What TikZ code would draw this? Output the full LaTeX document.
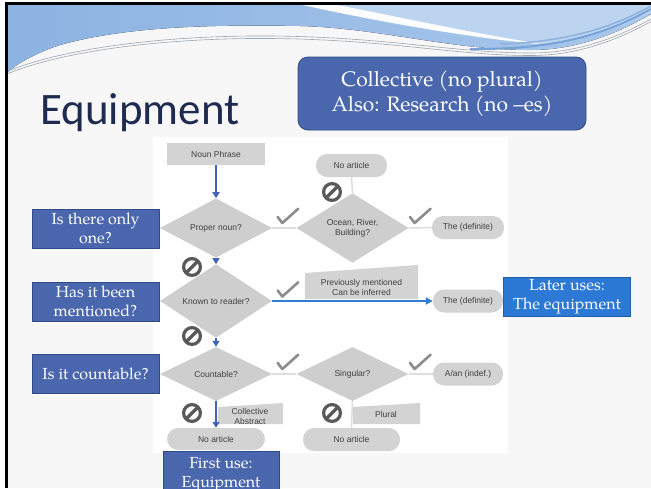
\documentclass[tikz,border=0pt]{standalone}
\usepackage{fontspec}
\usetikzlibrary{shapes.geometric,arrows.meta}
\newfontfamily\carl{Carlito}
\newfontfamily\ars{Liberation Sans}
\newfontfamily\palfont{TeX Gyre Pagella}
\definecolor{slidebg}{HTML}{F7F7F7}
\definecolor{boxblue}{HTML}{4A67AD}
\definecolor{boxedge}{HTML}{2F4B88}
\definecolor{laterblue}{HTML}{2B79D4}
\definecolor{lateredge}{HTML}{1F5FAF}
\definecolor{arrblue}{HTML}{3F64B9}
\definecolor{harrblue}{HTML}{2E7DD6}
\definecolor{gfill}{HTML}{CECECE}
\definecolor{pfill}{HTML}{D3D3D3}
\definecolor{gtext}{HTML}{404040}
\definecolor{iconcol}{HTML}{595959}
\definecolor{chkcol}{HTML}{8C8C8C}
\definecolor{glinecol}{HTML}{DDDDDD}
\definecolor{titlecol}{HTML}{1F2A50}
\definecolor{wA}{HTML}{8CB3E2}
\definecolor{wB}{HTML}{A9C7EB}
\definecolor{wlight}{HTML}{BCD4EF}
\definecolor{wdark}{HTML}{78A3DA}
\definecolor{wgray}{HTML}{9EA6B0}
\tikzset{
  qbox/.style={draw=boxedge, fill=boxblue, text=white, line width=0.8pt,
    font=\palfont\fontsize{16}{19}\selectfont, align=center,
    minimum width=127pt, minimum height=39pt, inner sep=0pt},
  gdia/.style={diamond, fill=gfill, minimum width=112pt, minimum height=54pt,
    inner sep=0pt, font=\ars\fontsize{8.5}{10}\selectfont, text=gtext, align=center},
  gpill/.style={rectangle, rounded corners=11pt, fill=pfill, minimum width=72pt,
    minimum height=23pt, inner sep=0pt, font=\ars\fontsize{8.5}{10}\selectfont, text=gtext},
  grect/.style={rectangle, fill=pfill, minimum width=98pt, minimum height=22pt,
    inner sep=0pt, font=\ars\fontsize{8.5}{10}\selectfont, text=gtext},
  gtxt/.style={inner sep=0pt, font=\ars\fontsize{8.5}{10}\selectfont, text=gtext, align=center},
  gline/.style={draw=glinecol, line width=1.5pt},
  barrow/.style={draw=arrblue, line width=2pt, -{Triangle[length=6pt,width=7pt]}},
  harrow/.style={draw=harrblue, line width=2pt, -{Triangle[length=7pt,width=7pt]}},
  chkstyle/.style={draw=chkcol, line width=2.6pt, line join=round, line cap=round},
  noent/.style={circle, draw=iconcol, line width=3.2pt, minimum size=16.8pt, inner sep=0pt,
    path picture={\draw[iconcol, line width=3.2pt] (path picture bounding box.south west) -- (path picture bounding box.north east);}}
}
\newcommand\mychk[2]{\draw[chkstyle] (#1,#2) -- ++(4.6,6) -- ++(16,-14.3);}
\begin{document}
\begin{tikzpicture}[x=1pt,y=-1pt]
\useasboundingbox (0,0) rectangle (651,488);
\fill[white] (0,0) rectangle (651,488);
\fill[slidebg] (6.5,3.3) rectangle (651,488);
% top wave
\fill[left color=wA, right color=wB] (8,4.5) -- (651,4.5) -- (651,14)
  .. controls (610,38) and (570,50) .. (531,50)
  .. controls (450,50) and (380,28) .. (300,26)
  .. controls (200,24) and (120,28) .. (60,45)
  .. controls (35,53) and (15,65) .. (8,72) -- cycle;
\fill[wlight] (305,4.5) .. controls (380,20) and (470,36) .. (545,44)
  .. controls (590,40) and (625,25) .. (651,12) -- (651,4.5) -- cycle;
\fill[white!96!wlight] (300,4.5) .. controls (380,22) and (470,38) .. (548,45)
  .. controls (470,33) and (390,15) .. (335,4.5) -- cycle;
\draw[wdark, line width=2pt] (470,49) .. controls (560,50) and (610,32) .. (651,9);
\draw[wdark!70!wlight, line width=1.5pt] (500,44) .. controls (570,42) and (615,26) .. (651,6);
\draw[wgray, line width=0.6pt] (8,71) .. controls (60,50) and (150,37) .. (250,36)
  .. controls (380,35) and (450,53) .. (531,53) .. controls (580,53) and (620,36) .. (651,19);
\draw[wgray, line width=0.6pt] (8,73.5) .. controls (60,52.5) and (150,39.5) .. (250,38.5)
  .. controls (380,37.5) and (450,55.5) .. (531,55.5) .. controls (580,55.5) and (620,38.5) .. (651,21.5);
% frame
\draw[black, line width=2.5pt] (6.5,488) -- (6.5,3.3) -- (651,3.3);
% flowchart picture area
\fill[white] (153,137) rectangle (508,453);
% title
\node[anchor=base west, font=\carl\fontsize{45}{54}\selectfont, text=titlecol, inner sep=0pt] (title) at (40,124) {Equipment};
\node[rounded corners=10pt, fill=boxblue, draw=boxedge, line width=0.8pt, minimum width=288pt, minimum height=73pt,
  inner sep=0pt, font=\palfont\fontsize{21}{25}\selectfont, text=white, align=center] (coll) at (442,93.5)
  {Collective (no plural)\\Also: Research (no –es)};
% flowchart nodes
\node[grect] (np) at (216,154) {Noun Phrase};
\node[gdia] (d1) at (216,228) {Proper noun?};
\node[gdia] (d2) at (352.5,228) {Ocean, River,\\Building?};
\node[gpill, minimum width=71pt] (na1) at (351.5,165.5) {No article};
\node[gpill] (the1) at (468,227.5) {The (definite)};
\node[gdia] (d3) at (216,301) {Known to reader?};
\node[gpill, minimum width=70pt] (the2) at (468,301) {The (definite)};
\node[gdia] (d4) at (216,374) {Countable?};
\node[gdia] (d5) at (352.5,374) {Singular?};
\node[gpill, minimum width=70pt] (aan) at (468,374) {A/an (indef.)};
\node[gpill, minimum width=98pt, minimum height=22pt] (na2) at (216,439) {No article};
\node[gpill, minimum width=97pt] (na3) at (351.5,439.5) {No article};
% gray connectors
\draw[gline] (d1.east) -- (d2.west);
\draw[gline] (d2.east) -- (the1.west);
\draw[gline] (d2.north) -- (na1.south);
\draw[gline] (d4.east) -- (d5.west);
\draw[gline] (d5.east) -- (aan.west);
\draw[gline] (d5.south) -- (na3.north);
% slanted labels
\fill[pfill] (305,273) -- (418,265) -- (418,299) -- (305,299) -- cycle;
\node[gtxt] (prev) at (361.5,287) {Previously mentioned\\Can be inferred};
\fill[pfill] (218,407) -- (283,403) -- (283,424) -- (218,424) -- cycle;
\node[gtxt] (collab) at (250,416) {Collective\\Abstract};
\fill[pfill] (353,407) -- (420,403) -- (420,424) -- (353,424) -- cycle;
\node[gtxt] (plural) at (386,414.5) {Plural};
% blue arrows
\draw[barrow] (np) -- (d1);
\draw[barrow] (d1) -- (d3);
\draw[barrow] (d3) -- (d4);
\draw[barrow] (d4) -- (na2);
\draw[harrow] (d3.east) -- (the2.west);
% checkmarks
\mychk{277.7}{217}
\mychk{410}{217}
\mychk{277.7}{290.5}
\mychk{277.7}{363}
\mychk{410}{363}
% prohibition icons
\node[noent] (p1) at (332,192) {};
\node[noent] (p2) at (192,267) {};
\node[noent] (p3) at (192,336) {};
\node[noent] (p4) at (192,413) {};
\node[noent] (p5) at (332,413) {};
% question boxes
\node[qbox] (q1) at (95.5,228.5) {Is there only\\one?};
\node[qbox] (q2) at (95.5,301.5) {Has it been\\mentioned?};
\node[qbox] (q3) at (95.5,374) {Is it countable?};
\node[qbox, fill=laterblue, draw=lateredge] (later) at (567,297) {Later uses:\\The equipment};
\node[qbox, minimum width=116pt, minimum height=46pt, anchor=north] (first) at (221,451) {First use:\\Equipment};
\end{tikzpicture}
\end{document}
